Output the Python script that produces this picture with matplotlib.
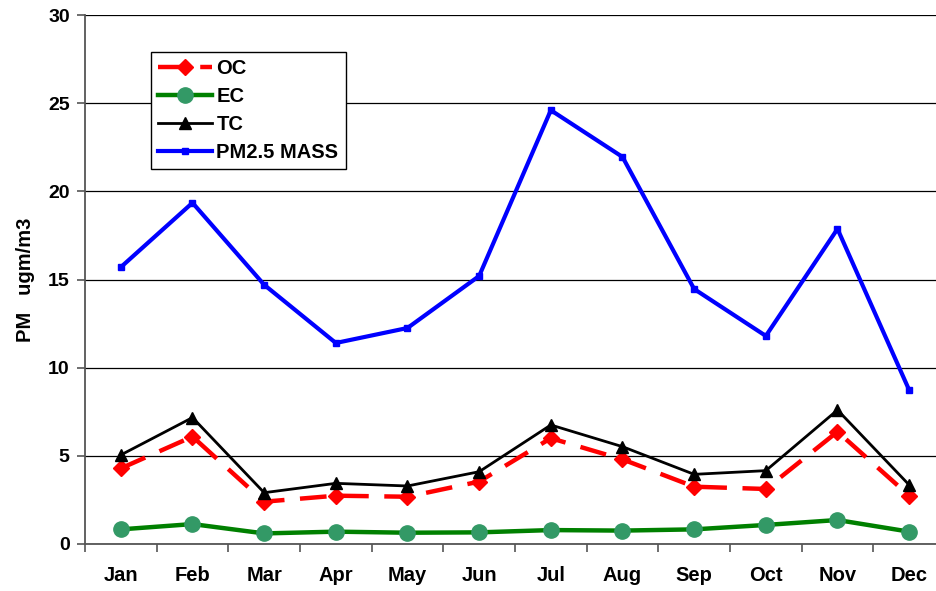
import matplotlib
matplotlib.use("Agg")
import matplotlib.pyplot as plt

plt.rcParams['font.family'] = ['Liberation Sans', 'DejaVu Sans']

months = ["Jan", "Feb", "Mar", "Apr", "May", "Jun", "Jul", "Aug", "Sep", "Oct", "Nov", "Dec"]
oc = [4.29, 6.09, 2.40, 2.74, 2.68, 3.54, 6.00, 4.80, 3.25, 3.12, 6.37, 2.74]
ec = [0.83, 1.13, 0.60, 0.70, 0.64, 0.66, 0.79, 0.76, 0.83, 1.08, 1.36, 0.70]
tc = [5.05, 7.17, 2.91, 3.44, 3.29, 4.10, 6.75, 5.52, 3.95, 4.16, 7.60, 3.35]
pm25 = [15.7, 19.35, 14.7, 11.4, 12.25, 15.2, 24.6, 21.95, 14.46, 11.8, 17.87, 8.73]
yticks = [0, 5, 10, 15, 20, 25, 30]

fig = plt.figure(figsize=(9.37, 5.91), dpi=100)
ax = fig.add_axes([85/937, 47/591, 860/937, 529/591])
x = list(range(len(months)))

ax.plot(x, oc, color='#ff0000', lw=3.2, ls=(0, (6, 3.5)), marker='D', ms=8, label='OC', zorder=4)
ax.plot(x, ec, color='#008000', lw=3.2, marker='o', ms=11, mfc='#339966', mec='#339966', label='EC', zorder=3)
ax.plot(x, tc, color='black', lw=2, marker='^', ms=9, label='TC', zorder=5)
ax.plot(x, pm25, color='#0000ff', lw=3, marker='s', ms=5, label='PM2.5 MASS', zorder=6)

ax.set_xlim(-0.5, 11.5)
ax.set_ylim(0, 30)
ax.set_yticks(yticks)
ax.set_yticklabels([str(v) for v in yticks], fontsize=14, fontweight='bold')
ax.set_xticks(x)
ax.set_xticklabels(months, fontsize=14.5, fontweight='bold')
ax.tick_params(axis='x', which='major', length=0, pad=16)
ax.set_xticks([i - 0.5 for i in range(len(months) + 1)], minor=True)
ax.tick_params(axis='x', which='minor', length=6, direction='out', color='#555555', width=1.2)
ax.tick_params(axis='y', length=6, direction='out', color='#555555', width=1.2, pad=5)
ax.yaxis.grid(True, color='black', lw=0.9)
ax.set_axisbelow(True)
for s in ['top', 'right']:
    ax.spines[s].set_visible(False)
for s in ['left', 'bottom']:
    ax.spines[s].set_color('#555555')
    ax.spines[s].set_linewidth(1.3)

ax.set_ylabel('PM   ugm/m3', fontsize=14.5, fontweight='bold', labelpad=9)

leg = ax.legend(loc='upper left', bbox_to_anchor=(66/860, 1 - 37/529), prop={'weight': 'bold', 'size': 14.5},
                frameon=True, fancybox=False, edgecolor='black', framealpha=1, handlelength=2.7,
                labelspacing=0.45, handletextpad=0.2, borderpad=0.35, borderaxespad=0)
leg.get_frame().set_linewidth(1.0)

fig.savefig('out.png', dpi=100)
